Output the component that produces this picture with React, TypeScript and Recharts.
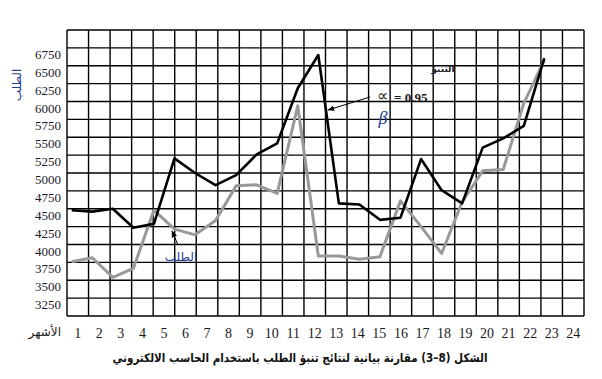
import React from "react";
import { LineChart, Line, XAxis, YAxis, ReferenceLine } from "recharts";

// months 1..24
const months = [
  1, 2, 3, 4, 5, 6, 7, 8, 9, 10, 11, 12, 13, 14, 15, 16, 17, 18, 19, 20, 21, 22,
  23, 24,
];

// التنبؤ (forecast, alpha = 0.95)
const forecast = [
  4480, 4460, 4500, 4235, 4290, 5205, 5000, 4830, 4970, 5260, 5415, 6185, 6650,
  4575, 4560, 4345, 4375, 5195, 4760, 4575, 5355, 5485, 5660, 6605,
];

// الطلب (actual demand)
const demand = [
  3760, 3815, 3540, 3665, 4480, 4215, 4135, 4335, 4820, 4835, 4715, 5940, 3840,
  3840, 3795, 3830, 4610, 4250, 3875, 4595, 5030, 5050, 5975, 6580,
];

const yTicks = [
  3250, 3500, 3750, 4000, 4250, 4500, 4750, 5000, 5250, 5500, 5750, 6000, 6250,
  6500, 6750,
];
const gridRows = [3000, ...yTicks, 7000];
const gridCols = [
  0, 1, 2, 3, 4, 5, 6, 7, 8, 9, 10, 11, 12, 13, 14, 15, 16, 17, 18, 19, 20, 21,
  22, 23, 24,
];
const monthLabels = months.map((m) => String(m));

// logical order; the rtl layout shows it as (3–8)
const caption =
  "الشكل (8–3) مقارنة بيانية لنتائج تنبؤ الطلب باستخدام الحاسب الالكتروني";

const data = months.map((m, i) => ({
  month: m,
  forecast: forecast[i],
  demand: demand[i],
}));

const serif = "'Liberation Serif', 'Times New Roman', serif";
const arabic = "'DejaVu Sans', sans-serif";

function YTick({ x, y, payload }: any) {
  return (
    <text
      x={x - 6}
      y={y + 6.5}
      textAnchor="end"
      dominantBaseline="central"
      fontFamily={serif}
      fontSize={13}
      fill="#1a1a2a"
    >
      {payload.value}
    </text>
  );
}

function XTick({ x, y, payload }: any) {
  return (
    <text
      x={x}
      y={y + 17}
      textAnchor="middle"
      dominantBaseline="central"
      fontFamily={serif}
      fontSize={14}
      fill="#1a1a1a"
    >
      {monthLabels[Math.round(payload.value - 0.5)]}
    </text>
  );
}

export default function App() {
  return (
    <div
      style={{
        position: "absolute",
        left: 0,
        top: 0,
        width: 602,
        height: 379,
        background: "#fff",
      }}
    >
      <LineChart
        width={602}
        height={379}
        data={data}
        margin={{ top: 30, right: 18, left: 7, bottom: 33 }}
      >
        <XAxis
          xAxisId="g"
          dataKey="month"
          type="number"
          domain={[0, 24]}
          allowDataOverflow
          ticks={monthLabels.map((_, i) => i + 0.5)}
          tick={<XTick />}
          axisLine={false}
          tickLine={false}
          tickSize={0}
          tickMargin={0}
          height={30}
          interval={0}
        />
        <XAxis
          xAxisId="m"
          dataKey="month"
          type="number"
          domain={[0.77, 25.93]}
          allowDataOverflow
          hide
        />
        <YAxis
          type="number"
          domain={[3000, 7000]}
          allowDataOverflow
          ticks={yTicks}
          tick={<YTick />}
          axisLine={false}
          tickLine={false}
          tickSize={0}
          tickMargin={0}
          width={60}
          interval={0}
        />
        {gridRows.map((v) => (
          <ReferenceLine
            key={"r" + v}
            xAxisId="g"
            y={v}
            stroke="#000"
            strokeWidth={1.4}
          />
        ))}
        {gridCols.map((v) => (
          <ReferenceLine
            key={"c" + v}
            xAxisId="g"
            x={v}
            stroke="#000"
            strokeWidth={1.4}
          />
        ))}
        <Line
          xAxisId="m"
          dataKey="demand"
          stroke="#999999"
          strokeWidth={3}
          dot={false}
          isAnimationActive={false}
          strokeLinejoin="round"
        />
        <Line
          xAxisId="m"
          dataKey="forecast"
          stroke="#000"
          strokeWidth={2.6}
          dot={false}
          isAnimationActive={false}
          strokeLinejoin="round"
        />
      </LineChart>

      <svg
        width={602}
        height={379}
        style={{ position: "absolute", left: 0, top: 0, pointerEvents: "none" }}
      >
        <defs>
          <marker
            id="ah"
            viewBox="0 0 10 10"
            refX="9"
            refY="5"
            markerWidth="7"
            markerHeight="7"
            orient="auto"
          >
            <path d="M0,1 L10,5 L0,9 z" fill="#000" />
          </marker>
        </defs>
        <text
          transform="translate(17,85) rotate(-90)"
          textAnchor="middle"
          dominantBaseline="central"
          fontFamily={arabic}
          fontSize={12}
          fill="#1f3f8f"
        >
          الطلب
        </text>
        <text
          x={61}
          y={332}
          textAnchor="end"
          dominantBaseline="central"
          fontFamily={arabic}
          fontSize={12}
          fill="#1a1a1a"
        >
          الأشهر
        </text>
        <text
          x={443}
          y={69}
          textAnchor="middle"
          dominantBaseline="central"
          fontFamily={arabic}
          fontWeight="bold"
          fontSize={9}
          fill="#1a1a1a"
        >
          التنبؤ
        </text>
        <text
          x={377}
          y={95}
          dominantBaseline="central"
          fontFamily={serif}
          fontSize={16}
          fill="#1a1a1a"
        >
          ∝
        </text>
        <text
          x={394}
          y={97}
          dominantBaseline="central"
          fontFamily={serif}
          fontWeight="bold"
          fontSize={13}
          fill="#1a1a1a"
        >
          = 0.95
        </text>
        <text
          x={383}
          y={118}
          textAnchor="middle"
          dominantBaseline="central"
          fontFamily={serif}
          fontStyle="italic"
          fontSize={18}
          fill="#1f3f8f"
        >
          β
        </text>
        <line
          x1={370}
          y1={97}
          x2={328}
          y2={110}
          stroke="#000"
          strokeWidth={1}
          markerEnd="url(#ah)"
        />
        <text
          x={181}
          y={257}
          textAnchor="middle"
          dominantBaseline="central"
          fontFamily={arabic}
          fontSize={12}
          fill="#1f3f8f"
        >
          الطلب
        </text>
        <line
          x1={178}
          y1={245}
          x2={172}
          y2={231}
          stroke="#000"
          strokeWidth={1}
          markerEnd="url(#ah)"
        />
        <text
          x={300}
          y={358}
          direction="rtl"
          textAnchor="middle"
          dominantBaseline="central"
          fontFamily={arabic}
          fontWeight="bold"
          fontSize={12}
          fill="#111"
          textLength={375}
          lengthAdjust="spacingAndGlyphs"
        >
          {caption}
        </text>
      </svg>
    </div>
  );
}
